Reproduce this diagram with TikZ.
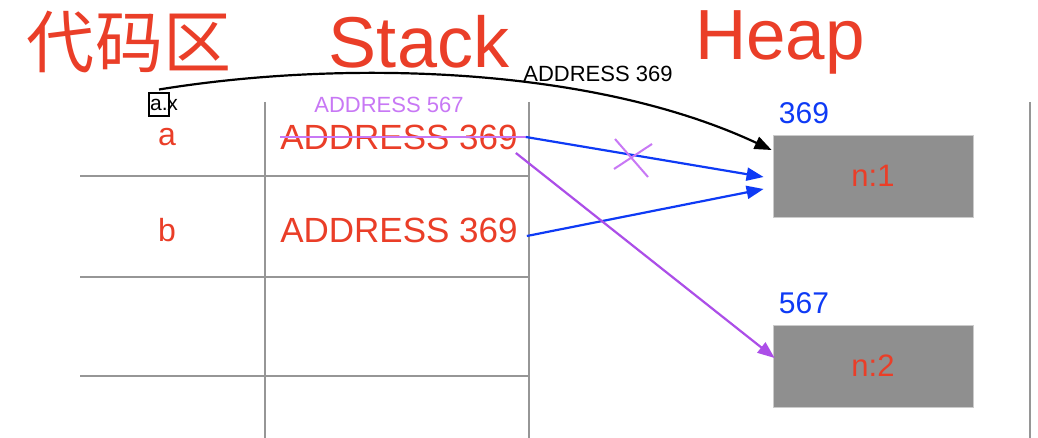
\documentclass[tikz,border=0pt]{standalone}
\usepackage{fontspec}
\setmainfont{Liberation Sans}
\newfontfamily\cjk{Noto Sans CJK SC}
\usetikzlibrary{arrows.meta}
\definecolor{cred}{RGB}{234,62,40}
\definecolor{cblue}{RGB}{14,58,245}
\definecolor{cpurple}{RGB}{172,78,232}
\definecolor{clpurple}{RGB}{200,120,245}
\definecolor{cgrid}{RGB}{150,150,150}
\definecolor{cbox}{RGB}{143,143,143}
\tikzset{
  txt/.style={inner sep=0pt, anchor=center},
  title/.style={txt, text=cred, font=\fontsize{71}{71}\selectfont},
  cell/.style={txt, text=cred, font=\fontsize{35}{35}\selectfont},
  addr/.style={txt, text=cblue, font=\fontsize{30}{30}\selectfont},
  heapbox/.style={draw=cgrid!50, line width=0.8pt, fill=cbox, minimum width=200pt, minimum height=82pt, text=cred, font=\fontsize{31}{31}\selectfont},
  grid/.style={draw=cgrid, line width=2pt},
  bluearrow/.style={draw=cblue, line width=2.2pt, -{Triangle[length=17pt,width=13pt]}},
  purplearrow/.style={draw=cpurple, line width=2.2pt, -{Triangle[length=17pt,width=13pt]}},
  blackarrow/.style={draw=black, line width=2.2pt, -{Triangle[length=17pt,width=13pt]}},
}
\begin{document}
\begin{tikzpicture}[x=1pt,y=-1pt]
\useasboundingbox[fill=white] (0,0) rectangle (1038,438);
% grid
\draw[grid] (265,102) -- (265,438);
\draw[grid] (529,102) -- (529,438);
\draw[grid] (1030,102) -- (1030,438);
\draw[grid] (80,176) -- (529,176);
\draw[grid] (80,277) -- (529,277);
\draw[grid] (80,376) -- (529,376);
% titles
\node[title, font=\cjk\fontsize{68}{68}\selectfont] (tcode) at (129,42) {代码区};
\node[title, font=\fontsize{72}{72}\selectfont] (tstack) at (419,42) {Stack};
\node[title] (theap) at (780,42) {Heap};
% stack cells
\node[cell, font=\fontsize{32}{32}\selectfont] (na) at (167,137) {a};
\node[cell, font=\fontsize{32}{32}\selectfont] (nb) at (167,230) {b};
\node[cell] (a1) at (399,137) {ADDRESS 369};
\node[cell] (b1) at (399,230) {ADDRESS 369};
\node[txt, text=clpurple, font=\fontsize{22}{22}\selectfont] (a567) at (389,105) {ADDRESS 567};
\draw[draw=clpurple, line width=2.2pt] (a1.west) -- ([xshift=8pt]a1.east);
% code area
\node[draw=black, line width=2pt, inner sep=1.5pt, minimum height=23pt, font=\fontsize{21}{21}\selectfont] (axa) at (159,105) {a.};
\node[txt, anchor=west, font=\fontsize{21}{21}\selectfont] (axx) at ([xshift=-3pt]axa.east) {x};
% heap
\node[addr] (l369) at (804,113) {369};
\node[addr] (l567) at (804,303) {567};
\node[heapbox] (h1) at (873,176) {n:1};
\node[heapbox] (h2) at (873,366) {n:2};
% connectors
\draw[blackarrow] ([yshift=3pt]axa.north) .. controls (340,60) and (590,65) .. ([shift={(-1,-26)}]h1.west);
\node[txt, font=\fontsize{22}{22}\selectfont] (lbl) at (598,74) {ADDRESS 369};
\draw[bluearrow] ([shift={(8,0)}]a1.east) -- ([shift={(-9,1)}]h1.west);
\draw[bluearrow] ([shift={(9,6)}]b1.east) -- ([shift={(-9,13)}]h1.west);
\draw[purplearrow] ([shift={(-2,16)}]a1.east) -- ([shift={(2,-8)}]h2.west);
% cross mark
\draw[draw=clpurple, line width=2pt] (615,139) -- (648,177);
\draw[draw=clpurple, line width=2pt] (614,169) -- (652,144);
\end{tikzpicture}
\end{document}
